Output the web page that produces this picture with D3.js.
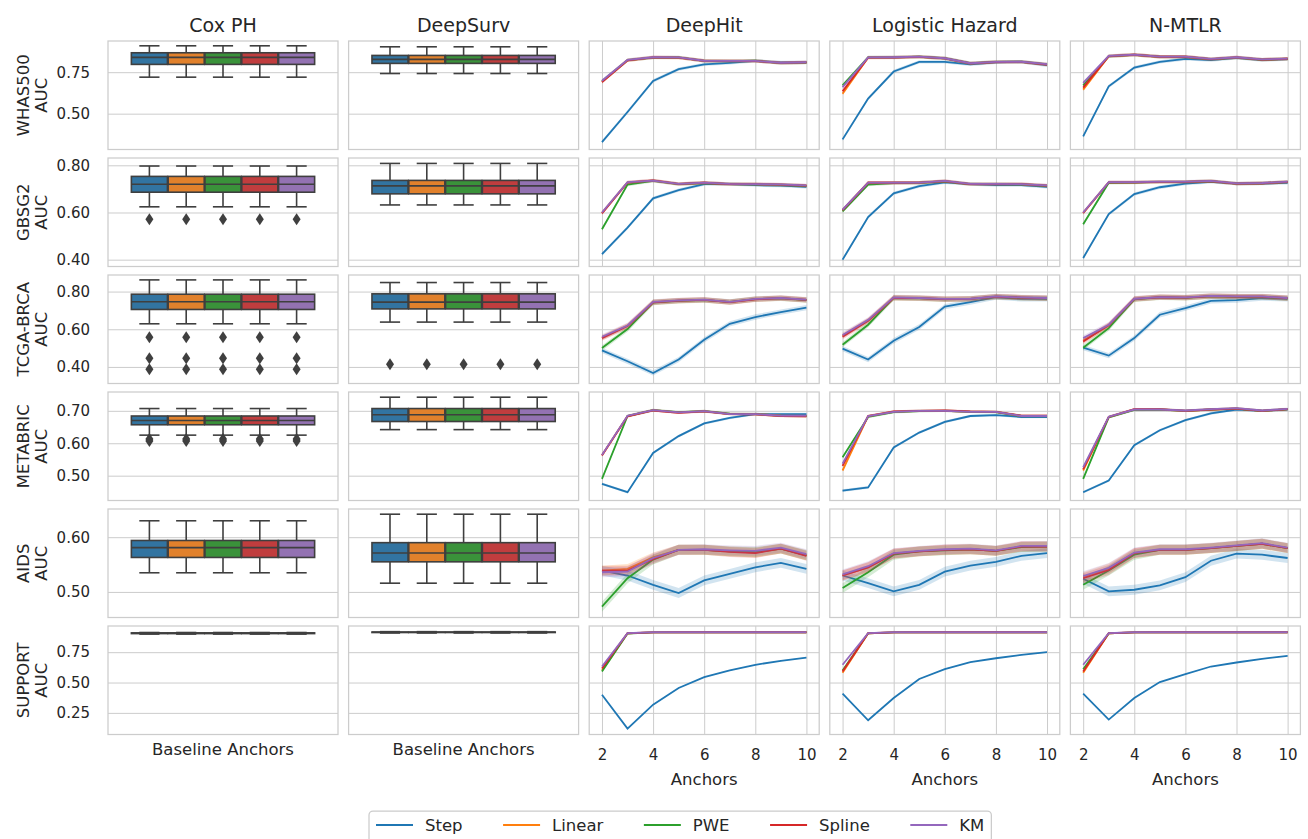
<!DOCTYPE html>
<html>
<head>
<meta charset="utf-8">
<script src="https://cdn.jsdelivr.net/npm/d3@7"></script>
<style>
body { margin: 0; background: #fff; }
text { font-family: "DejaVu Sans", sans-serif; fill: #262626; }
</style>
</head>
<body>
<script>
var datasets = ["WHAS500", "GBSG2", "TCGA-BRCA", "METABRIC", "AIDS", "SUPPORT"];
var models = ["Cox PH", "DeepSurv", "DeepHit", "Logistic Hazard", "N-MTLR"];
var methods = ["Step", "Linear", "PWE", "Spline", "KM"];
var anchors = [2, 3, 4, 5, 6, 7, 8, 9, 10];
var xTicks = [2, 4, 6, 8, 10];

// y ticks and visible range for every dataset row
var yTicks = [[0.50, 0.75], [0.40, 0.60, 0.80], [0.40, 0.60, 0.80], [0.50, 0.60, 0.70], [0.50, 0.60], [0.25, 0.50, 0.75]];
var yRange = [[0.284, 0.938], [0.371, 0.831], [0.312, 0.888], [0.4235, 0.758], [0.4533, 0.6515], [0.072, 0.9656]];

// box stats: [low whisker, q1, median, q3, high whisker] (same for all 5 methods)
var coxBox = [
  [0.720, 0.797, 0.839, 0.867, 0.909],
  [0.624, 0.686, 0.720, 0.753, 0.797],
  [0.629, 0.705, 0.746, 0.786, 0.862],
  [0.625, 0.657, 0.670, 0.684, 0.707],
  [0.535, 0.563, 0.581, 0.594, 0.630],
  [0.899, 0.903, 0.906, 0.909, 0.912]
];
var coxOutliers = [[], [0.571], [0.557, 0.446, 0.388], [0.613, 0.607], [], []];
var deepSurvBox = [
  [0.742, 0.803, 0.827, 0.851, 0.903],
  [0.632, 0.679, 0.713, 0.736, 0.808],
  [0.638, 0.708, 0.744, 0.788, 0.848],
  [0.642, 0.667, 0.688, 0.707, 0.742],
  [0.516, 0.555, 0.571, 0.590, 0.642],
  [0.908, 0.912, 0.914, 0.916, 0.919]
];
var deepSurvOutliers = [[], [], [0.414], [], [], []];

// mean AUC per dataset, rows = Step, Linear, PWE, Spline, KM
var deepHitAUC = [
  [[0.328, 0.510, 0.697, 0.768, 0.797, 0.806, 0.818, 0.809, 0.809],
   [0.692, 0.822, 0.839, 0.838, 0.819, 0.818, 0.818, 0.806, 0.809],
   [0.695, 0.823, 0.838, 0.839, 0.818, 0.817, 0.819, 0.805, 0.808],
   [0.690, 0.821, 0.839, 0.838, 0.818, 0.818, 0.817, 0.806, 0.809],
   [0.698, 0.824, 0.840, 0.839, 0.819, 0.818, 0.818, 0.807, 0.810]],
  [[0.423, 0.536, 0.660, 0.695, 0.720, 0.720, 0.716, 0.714, 0.709],
   [0.598, 0.728, 0.735, 0.720, 0.726, 0.720, 0.720, 0.718, 0.714],
   [0.529, 0.718, 0.734, 0.720, 0.725, 0.720, 0.719, 0.717, 0.713],
   [0.596, 0.727, 0.736, 0.721, 0.726, 0.720, 0.720, 0.718, 0.714],
   [0.600, 0.729, 0.735, 0.721, 0.727, 0.721, 0.720, 0.719, 0.715]],
  [[0.488, 0.430, 0.368, 0.439, 0.544, 0.629, 0.665, 0.691, 0.715],
   [0.555, 0.618, 0.744, 0.752, 0.756, 0.744, 0.760, 0.765, 0.756],
   [0.500, 0.601, 0.742, 0.751, 0.755, 0.745, 0.760, 0.764, 0.755],
   [0.553, 0.617, 0.743, 0.752, 0.756, 0.744, 0.759, 0.765, 0.756],
   [0.560, 0.620, 0.745, 0.753, 0.757, 0.745, 0.761, 0.766, 0.757]],
  [[0.475, 0.449, 0.570, 0.622, 0.661, 0.678, 0.690, 0.690, 0.690],
   [0.563, 0.684, 0.702, 0.695, 0.699, 0.690, 0.690, 0.685, 0.684],
   [0.490, 0.684, 0.702, 0.696, 0.699, 0.691, 0.690, 0.685, 0.684],
   [0.562, 0.683, 0.701, 0.694, 0.698, 0.690, 0.689, 0.684, 0.683],
   [0.564, 0.685, 0.702, 0.695, 0.699, 0.690, 0.690, 0.685, 0.685]],
  [[0.539, 0.530, 0.513, 0.498, 0.521, 0.533, 0.545, 0.553, 0.542],
   [0.539, 0.542, 0.563, 0.577, 0.577, 0.574, 0.572, 0.579, 0.567],
   [0.473, 0.525, 0.559, 0.577, 0.577, 0.574, 0.573, 0.579, 0.567],
   [0.539, 0.539, 0.560, 0.577, 0.577, 0.573, 0.571, 0.579, 0.566],
   [0.536, 0.537, 0.562, 0.577, 0.578, 0.576, 0.575, 0.581, 0.569]],
  [[0.400, 0.121, 0.318, 0.455, 0.545, 0.600, 0.646, 0.679, 0.706],
   [0.600, 0.905, 0.913, 0.914, 0.914, 0.914, 0.914, 0.914, 0.914],
   [0.591, 0.904, 0.913, 0.914, 0.914, 0.914, 0.914, 0.914, 0.914],
   [0.615, 0.906, 0.913, 0.914, 0.914, 0.914, 0.914, 0.914, 0.914],
   [0.632, 0.907, 0.914, 0.914, 0.914, 0.914, 0.914, 0.914, 0.914]]
];

var logHazardAUC = [
  [[0.345, 0.591, 0.754, 0.812, 0.812, 0.797, 0.810, 0.812, 0.792],
   [0.620, 0.838, 0.839, 0.843, 0.833, 0.803, 0.812, 0.812, 0.797],
   [0.671, 0.839, 0.839, 0.843, 0.834, 0.804, 0.812, 0.813, 0.797],
   [0.635, 0.838, 0.838, 0.842, 0.833, 0.803, 0.811, 0.812, 0.796],
   [0.660, 0.839, 0.840, 0.844, 0.834, 0.804, 0.812, 0.813, 0.798]],
  [[0.400, 0.581, 0.681, 0.712, 0.728, 0.720, 0.716, 0.716, 0.709],
   [0.610, 0.726, 0.726, 0.726, 0.733, 0.720, 0.720, 0.720, 0.714],
   [0.605, 0.718, 0.725, 0.726, 0.732, 0.720, 0.720, 0.719, 0.713],
   [0.610, 0.726, 0.726, 0.727, 0.733, 0.720, 0.720, 0.720, 0.714],
   [0.612, 0.727, 0.727, 0.727, 0.734, 0.721, 0.721, 0.720, 0.715]],
  [[0.497, 0.439, 0.539, 0.612, 0.720, 0.744, 0.770, 0.761, 0.761],
   [0.566, 0.647, 0.768, 0.765, 0.760, 0.761, 0.773, 0.768, 0.765],
   [0.518, 0.624, 0.766, 0.764, 0.759, 0.761, 0.772, 0.767, 0.764],
   [0.560, 0.645, 0.767, 0.765, 0.760, 0.761, 0.773, 0.768, 0.765],
   [0.570, 0.650, 0.769, 0.766, 0.761, 0.762, 0.774, 0.769, 0.766]],
  [[0.454, 0.464, 0.587, 0.633, 0.666, 0.684, 0.687, 0.681, 0.681],
   [0.516, 0.684, 0.697, 0.700, 0.700, 0.697, 0.697, 0.684, 0.684],
   [0.557, 0.681, 0.696, 0.699, 0.700, 0.697, 0.696, 0.684, 0.684],
   [0.530, 0.684, 0.698, 0.700, 0.701, 0.698, 0.697, 0.685, 0.685],
   [0.537, 0.684, 0.697, 0.700, 0.700, 0.697, 0.697, 0.684, 0.684]],
  [[0.530, 0.516, 0.501, 0.513, 0.537, 0.548, 0.555, 0.566, 0.571],
   [0.530, 0.545, 0.570, 0.574, 0.577, 0.578, 0.575, 0.583, 0.583],
   [0.507, 0.536, 0.568, 0.574, 0.576, 0.578, 0.575, 0.582, 0.583],
   [0.530, 0.545, 0.570, 0.574, 0.577, 0.578, 0.575, 0.583, 0.583],
   [0.532, 0.547, 0.571, 0.575, 0.578, 0.579, 0.576, 0.584, 0.584]],
  [[0.408, 0.189, 0.373, 0.529, 0.610, 0.668, 0.700, 0.728, 0.750],
   [0.580, 0.905, 0.913, 0.914, 0.914, 0.914, 0.914, 0.914, 0.914],
   [0.600, 0.905, 0.913, 0.914, 0.914, 0.914, 0.914, 0.914, 0.914],
   [0.591, 0.906, 0.913, 0.914, 0.914, 0.914, 0.914, 0.914, 0.914],
   [0.646, 0.907, 0.914, 0.914, 0.914, 0.914, 0.914, 0.914, 0.914]]
];

var nmtlrAUC = [
  [[0.363, 0.665, 0.778, 0.812, 0.830, 0.823, 0.837, 0.823, 0.829],
   [0.645, 0.847, 0.855, 0.843, 0.843, 0.829, 0.839, 0.826, 0.831],
   [0.670, 0.846, 0.854, 0.843, 0.842, 0.829, 0.838, 0.826, 0.830],
   [0.657, 0.847, 0.855, 0.843, 0.843, 0.829, 0.839, 0.826, 0.831],
   [0.685, 0.848, 0.856, 0.844, 0.844, 0.830, 0.840, 0.827, 0.832]],
  [[0.407, 0.593, 0.678, 0.707, 0.722, 0.730, 0.722, 0.722, 0.726],
   [0.598, 0.728, 0.728, 0.730, 0.730, 0.733, 0.722, 0.724, 0.730],
   [0.550, 0.726, 0.727, 0.730, 0.730, 0.733, 0.722, 0.724, 0.730],
   [0.598, 0.728, 0.728, 0.730, 0.730, 0.733, 0.722, 0.724, 0.730],
   [0.600, 0.729, 0.729, 0.731, 0.731, 0.734, 0.723, 0.725, 0.731]],
  [[0.502, 0.460, 0.553, 0.677, 0.712, 0.751, 0.755, 0.765, 0.761],
   [0.540, 0.620, 0.760, 0.770, 0.768, 0.776, 0.773, 0.773, 0.765],
   [0.502, 0.606, 0.759, 0.769, 0.767, 0.775, 0.772, 0.772, 0.764],
   [0.535, 0.622, 0.761, 0.770, 0.768, 0.776, 0.773, 0.773, 0.765],
   [0.553, 0.624, 0.762, 0.771, 0.769, 0.777, 0.774, 0.774, 0.766]],
  [[0.449, 0.485, 0.594, 0.640, 0.671, 0.692, 0.704, 0.700, 0.704],
   [0.516, 0.681, 0.704, 0.704, 0.700, 0.704, 0.707, 0.700, 0.705],
   [0.490, 0.680, 0.703, 0.704, 0.700, 0.704, 0.707, 0.700, 0.705],
   [0.520, 0.681, 0.705, 0.705, 0.700, 0.704, 0.707, 0.700, 0.705],
   [0.526, 0.682, 0.704, 0.704, 0.701, 0.705, 0.708, 0.701, 0.706]],
  [[0.524, 0.501, 0.504, 0.512, 0.527, 0.557, 0.570, 0.568, 0.562],
   [0.527, 0.543, 0.571, 0.577, 0.577, 0.580, 0.584, 0.588, 0.580],
   [0.513, 0.539, 0.568, 0.577, 0.577, 0.580, 0.584, 0.588, 0.580],
   [0.525, 0.540, 0.571, 0.577, 0.577, 0.580, 0.584, 0.588, 0.580],
   [0.529, 0.544, 0.572, 0.578, 0.578, 0.581, 0.585, 0.589, 0.581]],
  [[0.408, 0.195, 0.373, 0.504, 0.570, 0.632, 0.665, 0.695, 0.720],
   [0.580, 0.905, 0.913, 0.914, 0.914, 0.914, 0.914, 0.914, 0.914],
   [0.610, 0.905, 0.913, 0.914, 0.914, 0.914, 0.914, 0.914, 0.914],
   [0.590, 0.906, 0.913, 0.914, 0.914, 0.914, 0.914, 0.914, 0.914],
   [0.646, 0.907, 0.914, 0.914, 0.914, 0.914, 0.914, 0.914, 0.914]]
];

// approx. half width of the 95% band per dataset
var ciHalf = [0.010, 0.007, 0.014, 0.004, 0.009, 0.003];

var boxColors = ["#3274a1", "#e1812c", "#3a923a", "#c03d3e", "#9372b2"];
var lineColors = ["#1f77b4", "#ff7f0e", "#2ca02c", "#d62728", "#9467bd"];
var gridCol = "#cccccc", edgeGray = "#3f3f3f";

var W = 1308, H = 839;
var panelW = 230, panelH = 108.5;
var colLeft = d3.range(5).map(function(i) { return 108 + i * 240.6; });
var rowTop = d3.range(6).map(function(r) { return 41 + r * 117; });

var svg = d3.select("body").append("svg")
  .attr("width", W)
  .attr("height", H);
svg.append("rect").attr("width", W).attr("height", H).attr("fill", "#fff");

var lineData = [null, null, deepHitAUC, logHazardAUC, nmtlrAUC];
var boxData = [coxBox, deepSurvBox];
var outData = [coxOutliers, deepSurvOutliers];

// column titles
models.forEach(function(m, c) {
  svg.append("text")
    .attr("x", colLeft[c] + panelW / 2)
    .attr("y", 32)
    .attr("text-anchor", "middle")
    .style("font-size", "19px")
    .text(m);
});

datasets.forEach(function(ds, r) {
  var top = rowTop[r], bottom = top + panelH;
  var y = d3.scaleLinear().domain(yRange[r]).range([bottom, top]);

  // y label (two lines)
  var cy = top + panelH / 2;
  [ds, "AUC"].forEach(function(t, k) {
    svg.append("text")
      .attr("transform", "translate(" + (28.5 + k * 18.3) + "," + cy + ") rotate(-90)")
      .attr("text-anchor", "middle")
      .style("font-size", "16.5px")
      .text(t);
  });

  models.forEach(function(m, c) {
    var x0 = colLeft[c];
    var g = svg.append("g");
    g.append("rect")
      .attr("x", x0).attr("y", top)
      .attr("width", panelW).attr("height", panelH)
      .attr("fill", "#fff");

    // horizontal grid
    var gy = g.append("g")
      .attr("transform", "translate(" + x0 + ",0)")
      .call(d3.axisLeft(y).tickValues(yTicks[r]).tickSize(-panelW).tickFormat(""));
    gy.select(".domain").remove();
    gy.selectAll("line").attr("stroke", gridCol).attr("stroke-width", 1);

    if (c < 2) {
      var bx = d3.scaleLinear().domain([-0.5, 0.5]).range([x0, x0 + panelW]);
      var stats = boxData[c][r];
      var outs = outData[c][r];
      var bw = bx(0.16 * 0.98) - bx(0);
      methods.forEach(function(meth, h) {
        var cx = bx(-0.32 + h * 0.16);
        var bg = g.append("g");
        // whiskers
        bg.append("line").attr("x1", cx).attr("x2", cx)
          .attr("y1", y(stats[0])).attr("y2", y(stats[1]));
        bg.append("line").attr("x1", cx).attr("x2", cx)
          .attr("y1", y(stats[3])).attr("y2", y(stats[4]));
        // caps
        [stats[0], stats[4]].forEach(function(v) {
          bg.append("line").attr("x1", cx - bw * 0.28).attr("x2", cx + bw * 0.28)
            .attr("y1", y(v)).attr("y2", y(v));
        });
        bg.selectAll("line").attr("stroke", edgeGray).attr("stroke-width", 1.6);
        bg.append("rect")
          .attr("x", cx - bw / 2).attr("y", y(stats[3]))
          .attr("width", bw).attr("height", Math.max(y(stats[1]) - y(stats[3]), 0.5))
          .attr("fill", boxColors[h])
          .attr("stroke", edgeGray).attr("stroke-width", 1.6);
        bg.append("line")
          .attr("x1", cx - bw / 2).attr("x2", cx + bw / 2)
          .attr("y1", y(stats[2])).attr("y2", y(stats[2]))
          .attr("stroke", edgeGray).attr("stroke-width", 1.6);
        outs.forEach(function(v) {
          bg.append("path")
            .attr("transform", "translate(" + cx + "," + y(v) + ")")
            .attr("d", "M0,-6L4,0L0,6L-4,0Z")
            .attr("fill", edgeGray);
        });
      });
      if (r == 5) {
        svg.append("text")
          .attr("x", x0 + panelW / 2).attr("y", 755)
          .attr("text-anchor", "middle")
          .style("font-size", "16.5px")
          .text("Baseline Anchors");
      }
    } else {
      var x = d3.scaleLinear().domain([1.5, 10.5]).range([x0, x0 + panelW]);
      var gx = g.append("g")
        .attr("transform", "translate(0," + bottom + ")")
        .call(d3.axisBottom(x).tickValues(xTicks).tickSize(-panelH).tickFormat(""));
      gx.select(".domain").remove();
      gx.selectAll("line").attr("stroke", gridCol).attr("stroke-width", 1);

      var series = lineData[c][r];
      var area = d3.area()
        .x(function(d, i) { return x(anchors[i]); })
        .y0(function(d) { return y(d - ciHalf[r]); })
        .y1(function(d) { return y(d + ciHalf[r]); });
      var line = d3.line()
        .x(function(d, i) { return x(anchors[i]); })
        .y(function(d) { return y(d); });
      series.forEach(function(vals, h) {
        g.append("path").attr("d", area(vals))
          .attr("fill", lineColors[h]).attr("fill-opacity", 0.2);
        g.append("path").attr("d", line(vals))
          .attr("fill", "none").attr("stroke", lineColors[h])
          .attr("stroke-width", 1.8);
      });

      if (r == 5) {
        var ax = svg.append("g")
          .attr("transform", "translate(0," + bottom + ")")
          .call(d3.axisBottom(x).tickValues(xTicks).tickSize(0).tickPadding(15));
        ax.select(".domain").remove();
        ax.selectAll("text").style("font-size", "15px").attr("fill", "#262626")
          .style("font-family", "DejaVu Sans");
        svg.append("text")
          .attr("x", x0 + panelW / 2).attr("y", 785)
          .attr("text-anchor", "middle")
          .style("font-size", "16.5px")
          .text("Anchors");
      }
    }

    g.append("rect")
      .attr("x", x0).attr("y", top)
      .attr("width", panelW).attr("height", panelH)
      .attr("fill", "none")
      .attr("stroke", gridCol).attr("stroke-width", 1.25);

    if (c == 0) {
      var ay = svg.append("g")
        .attr("transform", "translate(" + x0 + ",0)")
        .call(d3.axisLeft(y).tickValues(yTicks[r]).tickSize(0).tickPadding(18).tickFormat(d3.format(".2f")));
      ay.select(".domain").remove();
      ay.selectAll("text").style("font-size", "15px").attr("fill", "#262626")
        .style("font-family", "DejaVu Sans");
    }
  });
});

// legend
var leg = svg.append("g");
var legBox = leg.append("rect")
  .attr("x", 369).attr("y", 811)
  .attr("height", 40).attr("rx", 4)
  .attr("fill", "#fff").attr("stroke", gridCol).attr("stroke-width", 1.25);
var lx = 376;
methods.forEach(function(meth, h) {
  leg.append("line")
    .attr("x1", lx).attr("x2", lx + 37)
    .attr("y1", 825).attr("y2", 825)
    .attr("stroke", lineColors[h]).attr("stroke-width", 2);
  var t = leg.append("text")
    .attr("x", lx + 49).attr("y", 831)
    .style("font-size", "16.5px")
    .text(meth);
  lx = lx + 49 + t.node().getComputedTextLength() + 40.5;
});
legBox.attr("width", lx - 40.5 + 7 - 369);
</script>
</body>
</html>
